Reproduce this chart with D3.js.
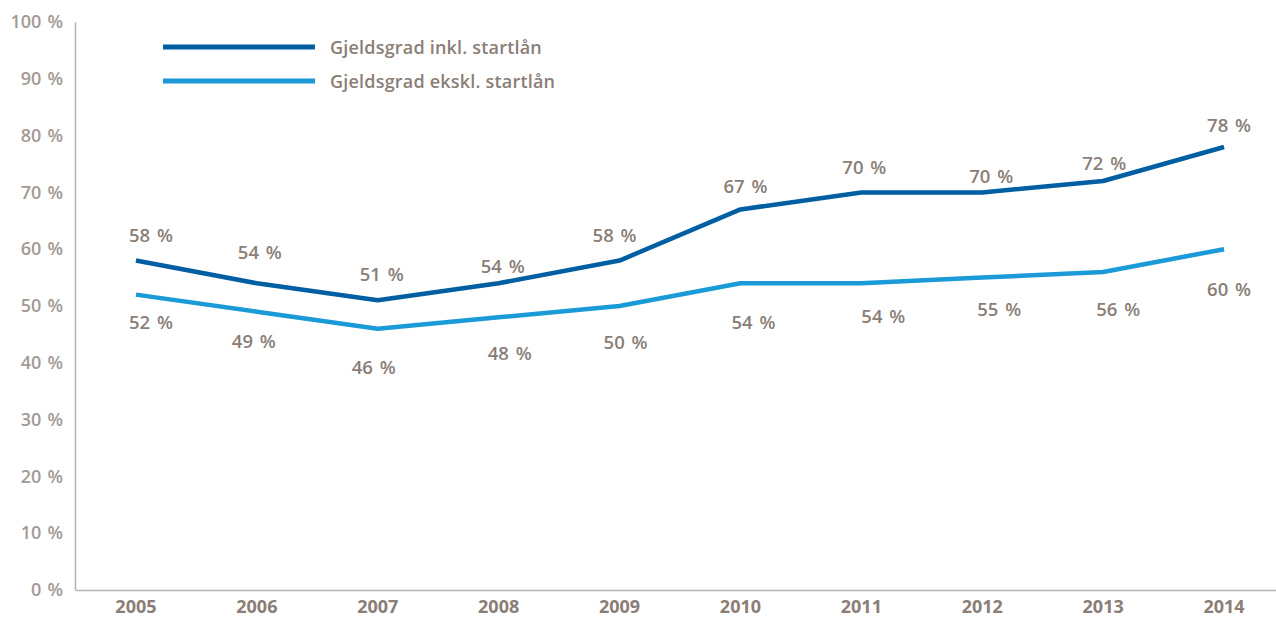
<!DOCTYPE html>
<html>
<head>
<meta charset="utf-8">
<script src="https://cdn.jsdelivr.net/npm/d3@7"></script>
<style>
  html, body { margin: 0; padding: 0; background: #ffffff; }
  svg { display: block; }
  text { font-family: "Open Sans", "Noto Sans", sans-serif; }
</style>
</head>
<body>
<div id="chart"></div>
<script>
// Gjeldsgrad, 2005–2014
const years = ["2005", "2006", "2007", "2008", "2009", "2010", "2011", "2012", "2013", "2014"];
const inklStartlan = [58, 54, 51, 54, 58, 67, 70, 70, 72, 78];
const ekskStartlan = [52, 49, 46, 48, 50, 54, 54, 55, 56, 60];
const seriesNames = ["Gjeldsgrad inkl. startlån", "Gjeldsgrad ekskl. startlån"];
const yTicks = [0, 10, 20, 30, 40, 50, 60, 70, 80, 90, 100];

// Label placement relative to each point (dx, dy), so labels clear the lines
const inklLabelNudge = [[15, -25], [3, -31], [4, -26], [4, -17], [-5, -25], [5, -23], [3, -25], [9, -16], [1, -18], [5, -22]];
const ekskLabelNudge = [[15, 28], [-3, 30], [-4, 39], [11, 36], [6, 36], [13, 39], [22, 33], [17, 32], [15, 37], [5, 40]];

const W = 1276, H = 618;
const darkBlue = "#005ea2";
const lightBlue = "#1a9ad6";
const labelColor = "#8a7e77";
const tickColor = "#a39a93";
const axisColor = "#b4b4b4";

const svg = d3.select("#chart").append("svg")
  .attr("width", W).attr("height", H);

const x = d3.scaleBand().domain(years).range([75.5, 1284.5]).paddingInner(0).paddingOuter(0);
const y = d3.scaleLinear().domain([0, 100]).range([590, 22]);
const cx = d => x(d) + x.bandwidth() / 2;

// Y axis
const yAxis = svg.append("g")
  .attr("transform", "translate(75,0)")
  .call(d3.axisLeft(y).tickValues(yTicks).tickFormat(d => d + " %").tickSize(0).tickSizeOuter(0).tickPadding(12));
yAxis.select(".domain").attr("stroke", axisColor).attr("stroke-width", 1.5);
yAxis.selectAll("text")
  .attr("fill", tickColor)
  .style("font-size", "18px")
  .style("font-weight", "600")
  .style("word-spacing", "1.5px");

// X axis
const xAxis = svg.append("g")
  .attr("transform", "translate(0,590)")
  .call(d3.axisBottom(x).tickSize(0).tickSizeOuter(0).tickPadding(10));
xAxis.select(".domain").attr("stroke", axisColor).attr("stroke-width", 1.5);
xAxis.selectAll("text")
  .attr("fill", labelColor)
  .style("font-size", "18px")
  .style("font-weight", "700");

// Lines
const line = d3.line()
  .x((d, i) => cx(years[i]))
  .y(d => y(d));

const series = [
  { name: seriesNames[0], values: inklStartlan, color: darkBlue, nudge: inklLabelNudge },
  { name: seriesNames[1], values: ekskStartlan, color: lightBlue, nudge: ekskLabelNudge }
];

svg.selectAll("path.series")
  .data(series)
  .enter().append("path")
  .attr("class", "series")
  .attr("d", s => line(s.values))
  .attr("fill", "none")
  .attr("stroke", s => s.color)
  .attr("stroke-width", 4.5)
  .attr("stroke-linejoin", "round");

// Value labels
series.forEach(s => {
  svg.append("g").selectAll("text")
    .data(s.values)
    .enter().append("text")
    .attr("x", (d, i) => cx(years[i]) + s.nudge[i][0])
    .attr("y", (d, i) => y(d) + s.nudge[i][1])
    .attr("dy", "0.36em")
    .attr("text-anchor", "middle")
    .attr("fill", labelColor)
    .style("font-size", "18.5px")
    .style("font-weight", "600")
    .style("word-spacing", "2px")
    .text(d => d + " %");
});

// Legend
const legend = svg.append("g").attr("transform", "translate(163,47)");
const legendItems = legend.selectAll("g")
  .data(series)
  .enter().append("g")
  .attr("transform", (d, i) => `translate(0,${i * 34})`);
legendItems.append("line")
  .attr("x1", 0).attr("x2", 152)
  .attr("y1", 0).attr("y2", 0)
  .attr("stroke", d => d.color)
  .attr("stroke-width", 5);
legendItems.append("text")
  .attr("x", 167)
  .attr("y", 1)
  .attr("dy", "0.36em")
  .attr("fill", labelColor)
  .style("font-size", "18px")
  .style("font-weight", "600")
  .style("letter-spacing", "0.2px")
  .text(d => d.name);
</script>
</body>
</html>
